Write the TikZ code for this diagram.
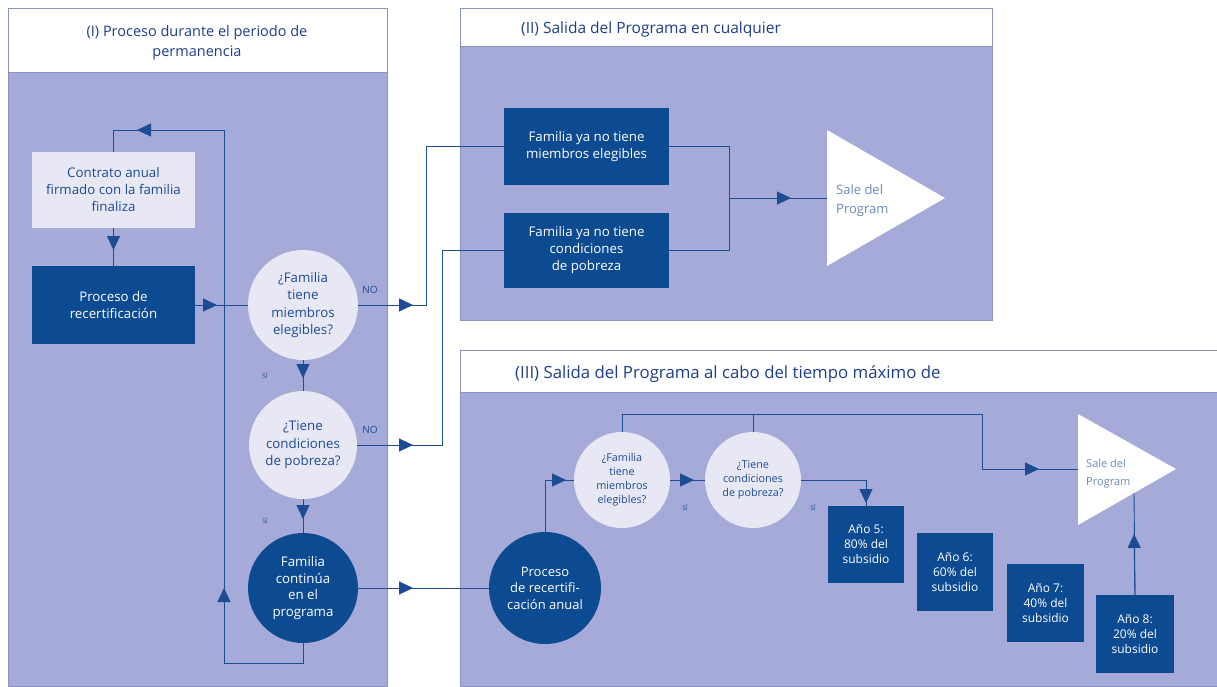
\documentclass[tikz,border=0pt]{standalone}
\usepackage{fontspec}
\setmainfont{Open Sans}
\usetikzlibrary{arrows.meta}
\definecolor{lav}{RGB}{165,170,216}
\definecolor{dk}{RGB}{12,74,146}
\definecolor{lt}{RGB}{231,232,243}
\definecolor{lnc}{RGB}{28,76,148}
\definecolor{ttl}{RGB}{30,62,140}
\definecolor{brd}{RGB}{140,146,190}
\tikzset{
  panel/.style={fill=lav, draw=brd, line width=0.6pt},
  header/.style={fill=white, draw=brd, line width=0.6pt},
  ttxt/.style={text=ttl, font=\fontsize{14.5}{20}\selectfont, align=center, inner sep=0pt},
  darkbox/.style={rectangle, fill=dk, text=white, align=center, inner sep=2pt, font=\fontsize{13.3}{17}\selectfont},
  lightbox/.style={rectangle, fill=lt, text=lnc, align=center, inner sep=2pt, font=\fontsize{13.3}{17}\selectfont},
  lcirc/.style={circle, fill=lt, text=lnc, align=center, inner sep=0pt, font=\fontsize{13.3}{17.5}\selectfont},
  dcirc/.style={circle, fill=dk, text=white, align=center, inner sep=0pt, font=\fontsize{13.3}{16.5}\selectfont},
  scirc/.style={circle, fill=lt, text=lnc, align=center, inner sep=0pt, font=\fontsize{10.8}{14}\selectfont},
  yearbox/.style={rectangle, fill=dk, text=white, align=center, inner sep=1pt, font=\fontsize{12}{15}\selectfont},
  ln/.style={draw=lnc, line width=0.9pt},
  tip/.style={draw=lnc, line width=0.9pt, -{Triangle[length=14pt,width=13pt]}, fill=lnc},
  lbl/.style={text=lnc, font=\fontsize{10}{11}\selectfont, inner sep=0pt},
  slbl/.style={text=lnc, font=\fontsize{6.5}{7}\selectfont, inner sep=0pt},
  tritxt/.style={text=white!35!lnc, align=left, anchor=west, inner sep=0pt},
}
\begin{document}
\begin{tikzpicture}[x=1pt,y=-1pt]
\useasboundingbox (0,0) rectangle (1217,686);
\fill[white] (0,0) rectangle (1217,686);
% panels
\draw[panel] (8,8) rectangle (387,686);
\draw[header] (8,8) rectangle (387,72);
\draw[panel] (460,8) rectangle (992,320);
\draw[header] (460,8) rectangle (992,46);
\draw[panel] (460,350) rectangle (1217,686);
\draw[header] (460,350) rectangle (1217,392);
% titles
\node[ttxt] (t1) at (197,43) {(I) Proceso durante el periodo de\\permanencia};
\node[ttxt, anchor=west, font=\fontsize{15.5}{20}\selectfont] (t2) at (521,29) {(II) Salida del Programa en cualquier};
\node[ttxt, anchor=west, font=\fontsize{16.8}{20}\selectfont] (t3) at (515,374) {(III) Salida del Programa al cabo del tiempo máximo de};
% panel I nodes
\node[lightbox, minimum width=163pt, minimum height=76pt] (contrato) at (113.5,190) {Contrato anual\\firmado con la familia\\finaliza};
\node[darkbox, minimum width=163pt, minimum height=78pt] (proceso) at (113.5,305) {Proceso de\\recertificación};
\node[lcirc, minimum size=110pt] (c1) at (303,305) {¿Familia\\tiene\\miembros\\elegibles?};
\node[lcirc, minimum size=108pt] (c2) at (303,445) {¿Tiene\\condiciones\\de pobreza?};
\node[dcirc, minimum size=110pt] (c3) at (303,588) {Familia\\continúa\\en el\\programa};
% panel II nodes
\node[darkbox, minimum width=165pt, minimum height=77pt] (b1) at (586.5,146.5) {Familia ya no tiene\\miembros elegibles};
\node[darkbox, minimum width=165pt, minimum height=75pt] (b2) at (586.5,250.5) {Familia ya no tiene\\condiciones\\de pobreza};
\fill[white] (827,130) -- (945,198) -- (827,266) -- cycle;
\coordinate (tri1w) at (827,198);
\node[tritxt, font=\fontsize{13}{19}\selectfont] (tri1t) at (836,201) {Sale del\\Program};
% panel III nodes
\node[dcirc, minimum size=112pt, font=\fontsize{13}{16.5}\selectfont] (c4) at (545,588) {Proceso\\de recertifi-\\cación anual};
\node[scirc, minimum size=96pt] (c5) at (622,480) {¿Familia\\tiene\\miembros\\elegibles?};
\node[scirc, minimum size=96pt] (c6) at (753,480) {¿Tiene\\condiciones\\de pobreza?};
\node[yearbox, minimum width=76pt, minimum height=77pt] (y5) at (866,544.5) {Año 5:\\80\% del\\subsidio};
\node[yearbox, minimum width=76pt, minimum height=78pt] (y6) at (955,572) {Año 6:\\60\% del\\subsidio};
\node[yearbox, minimum width=77pt, minimum height=78pt] (y7) at (1045.5,603) {Año 7:\\40\% del\\subsidio};
\node[yearbox, minimum width=78pt, minimum height=78pt] (y8) at (1135,634) {Año 8:\\20\% del\\subsidio};
\fill[white] (1078,414) -- (1176,469) -- (1078,525) -- cycle;
\coordinate (tri3w) at (1078,469);
\coordinate (tri3b) at (1134,493);
\node[tritxt, font=\fontsize{11}{18}\selectfont] (tri3t) at (1086,474) {Sale del\\Program};
% labels
\node[lbl] (no1) at (370,290) {NO};
\node[lbl] (no2) at (370,430) {NO};
\node[slbl] (si1) at (265,375) {SÍ};
\node[slbl] (si2) at (265,520) {SÍ};
\node[slbl] (si3) at (685,507) {SÍ};
\node[slbl] (si4) at (813,507) {SÍ};
% coordinates for connectors
\coordinate (a1) at (113.5,250);
\coordinate (a2) at (217,305);
\coordinate (lpb) at (303,663);
\coordinate (lpl) at (224,663);
\coordinate (lpt) at (224,130);
\coordinate (lptl) at (113.5,130);
\coordinate (a3) at (224,588);
\coordinate (a4) at (137,130);
\coordinate (n1) at (426,305);
\coordinate (n1t) at (426,146.5);
\coordinate (a5) at (413,305);
\coordinate (n2) at (442,445);
\coordinate (n2t) at (442,250.5);
\coordinate (a6) at (413,445);
\coordinate (a7) at (303,378);
\coordinate (a8) at (303,519);
\coordinate (a9) at (413,588);
\coordinate (j1) at (729,146.5);
\coordinate (j2) at (729,250.5);
\coordinate (jm) at (729,198);
\coordinate (a10) at (791,198);
\coordinate (k1) at (545,480);
\coordinate (a11) at (566,480);
\coordinate (a12) at (694,480);
\coordinate (k2) at (866,480);
\coordinate (a13) at (866,503);
\coordinate (m1) at (622,414);
\coordinate (m2) at (753,414);
\coordinate (m3) at (982,414);
\coordinate (m4) at (982,469);
\coordinate (a14) at (1039,469);
\coordinate (a15) at (1134,534);
% connectors panel I
\draw[ln] (contrato.south) -- (proceso.north);
\draw[tip] (contrato.south) -- (a1);
\draw[ln] (proceso.east) -- (c1.west);
\draw[tip] (proceso.east) -- (a2);
\draw[ln] (c3.south) -- (lpb) -- (lpl) -- (lpt) -- (lptl) -- (contrato.north);
\draw[tip] (lpl) -- (a3);
\draw[tip] (lpt) -- (a4);
\draw[ln] (c1.east) -- (n1) -- (n1t) -- (b1.west);
\draw[tip] (c1.east) -- (a5);
\draw[ln] (c2.east) -- (n2) -- (n2t) -- (b2.west);
\draw[tip] (c2.east) -- (a6);
\draw[ln] (c1.south) -- (c2.north);
\draw[tip] (c1.south) -- (a7);
\draw[ln] (c2.south) -- (c3.north);
\draw[tip] (c2.south) -- (a8);
\draw[ln] (c3.east) -- (c4.west);
\draw[tip] (c3.east) -- (a9);
% connectors panel II
\draw[ln] (b1.east) -- (j1) -- (j2) -- (b2.east);
\draw[ln] (jm) -- (tri1w);
\draw[tip] (jm) -- (a10);
% connectors panel III
\draw[ln] (c4.north) -- (k1) -- (c5.west);
\draw[tip] (k1) -- (a11);
\draw[ln] (c5.east) -- (c6.west);
\draw[tip] (c5.east) -- (a12);
\draw[ln] (c6.east) -- (k2) -- (y5.north);
\draw[tip] (k2) -- (a13);
\draw[ln] (c5.north) -- (m1) -- (m3) -- (m4) -- (tri3w);
\draw[ln] (c6.north) -- (m2);
\draw[tip] (m4) -- (a14);
\draw[ln] (y8.north) -- (tri3b);
\draw[tip] (y8.north) -- (a15);
\end{tikzpicture}
\end{document}
